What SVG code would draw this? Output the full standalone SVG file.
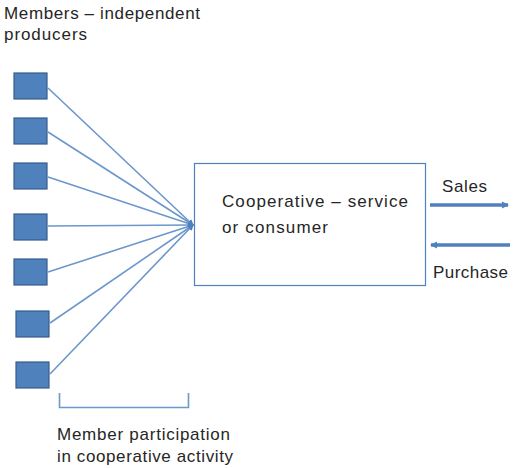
<svg xmlns="http://www.w3.org/2000/svg" width="513" height="468" viewBox="0 0 513 468">
<style>
text{font-family:"Liberation Sans",Arial,sans-serif;font-size:17px;fill:#262626}
.sq{fill:#4F81BD;stroke:#385D8A;stroke-width:1.2}
.ln{stroke:#6B97CC;stroke-width:1.6;fill:none}
.thick{stroke:#4F81BD;stroke-width:3.5;fill:none}
</style>
<defs>
<marker id="ah" markerWidth="6" markerHeight="6" refX="5" refY="3" orient="auto" markerUnits="userSpaceOnUse"><path d="M0,0 L6,3 L0,6 z" fill="#4F81BD"/></marker>
<marker id="ah2" markerWidth="8" markerHeight="8" refX="6" refY="4" orient="auto" markerUnits="userSpaceOnUse"><path d="M0,0.5 L7,4 L0,7.5 z" fill="#4F81BD"/></marker>
</defs>
<g id="title"><text x="4" y="19" textLength="196" lengthAdjust="spacing">Members – independent</text><text x="4" y="40" textLength="83" lengthAdjust="spacing">producers</text></g>
<g id="connectors">
<line class="ln" x1="48" y1="88" x2="193" y2="225" marker-end="url(#ah)"/>
<line class="ln" x1="48" y1="132" x2="193" y2="225" marker-end="url(#ah)"/>
<line class="ln" x1="48" y1="177" x2="193" y2="225" marker-end="url(#ah)"/>
<line class="ln" x1="48" y1="226" x2="193" y2="225" marker-end="url(#ah)"/>
<line class="ln" x1="48" y1="272" x2="193" y2="225" marker-end="url(#ah)"/>
<line class="ln" x1="50" y1="323" x2="193" y2="225" marker-end="url(#ah)"/>
<line class="ln" x1="50" y1="374" x2="193" y2="225" marker-end="url(#ah)"/>
<line class="thick" x1="430" y1="205" x2="508" y2="205" marker-end="url(#ah2)"/>
<line class="thick" x1="510" y1="245" x2="431" y2="245" marker-end="url(#ah2)"/>
<path d="M59.5,393 V407.5 H188.5 V393" stroke="#6B97CC" stroke-width="1.6" fill="none"/>
</g>
<g id="m1"><rect class="sq" x="14" y="73" width="33" height="26"/></g>
<g id="m2"><rect class="sq" x="14" y="118" width="33" height="26"/></g>
<g id="m3"><rect class="sq" x="14" y="163" width="33" height="26"/></g>
<g id="m4"><rect class="sq" x="14" y="214" width="33" height="26"/></g>
<g id="m5"><rect class="sq" x="14" y="259" width="33" height="26"/></g>
<g id="m6"><rect class="sq" x="16" y="311" width="33" height="26"/></g>
<g id="m7"><rect class="sq" x="16" y="362" width="33" height="26"/></g>
<g id="coop"><rect x="194.5" y="163.5" width="231" height="122" fill="#fff" stroke="#4F81BD" stroke-width="1.2"/>
<text x="222" y="207" textLength="186" lengthAdjust="spacing">Cooperative – service</text><text x="222" y="233" textLength="106" lengthAdjust="spacing">or consumer</text></g>
<g id="sales"><text x="442" y="192" textLength="45" lengthAdjust="spacing">Sales</text></g>
<g id="purchase"><text x="433" y="278" textLength="75" lengthAdjust="spacing">Purchase</text></g>
<g id="participation"><text x="57" y="440" textLength="173" lengthAdjust="spacing">Member participation</text><text x="57" y="462" textLength="176" lengthAdjust="spacing">in cooperative activity</text></g>
</svg>
